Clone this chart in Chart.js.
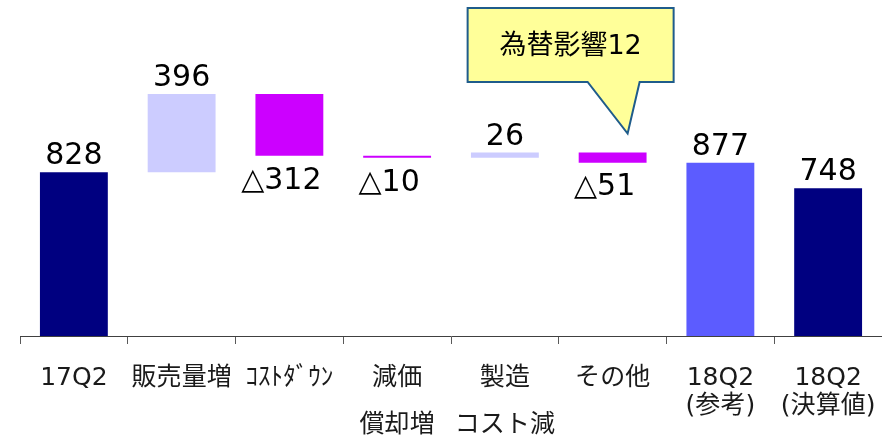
<!DOCTYPE html>
<html>
<head>
<meta charset="utf-8">
<script src="https://cdn.jsdelivr.net/npm/chart.js@4.4.1/dist/chart.umd.min.js"></script>
<style>
  html, body { margin: 0; padding: 0; background: #fff; }
  #wrap { width: 882px; height: 435px; }
</style>
</head>
<body>
<div id="wrap"><canvas id="waterfall"></canvas></div>
<script>
// Waterfall data
const categories = [['17Q2'], ['販売量増'], ['ｺｽﾄﾀﾞｳﾝ'], ['減価', '償却増'], ['製造', 'コスト減'], ['その他'], ['18Q2', '(参考)'], ['18Q2', '(決算値)']];
const startValue = 828;
const changes = [396, -312, -10, 26, -51];
const refValue = 877;
const actualValue = 748;
const valueLabels = ['828', '396', '△312', '△10', '26', '△51', '877', '748'];
const calloutText = '為替影響12';

const NAVY = '#000080';
const UP = '#CCCCFF';
const DOWN = '#CC00FF';
const REF = '#5C5CFF';

// Build floating [from, to] ranges from the running total
let running = startValue;
const ranges = [[0, startValue]];
const colors = [NAVY];
changes.forEach(c => {
    ranges.push([running, running + c]);
    colors.push(c >= 0 ? UP : DOWN);
    running += c;
});
ranges.push([0, refValue]);
colors.push(REF);
ranges.push([0, actualValue]);
colors.push(NAVY);

const FAMILY = '"DejaVu Sans", "Noto Sans CJK JP", sans-serif';

// Value labels above (totals / increases) or below (decreases) each bar
const valueLabelPlugin = {
    id: 'valueLabels',
    afterDatasetsDraw(chart) {
        const ctx = chart.ctx;
        const meta = chart.getDatasetMeta(0);
        ctx.save();
        ctx.font = '30px ' + FAMILY;
        ctx.fillStyle = '#000';
        ctx.textAlign = 'center';
        meta.data.forEach((el, i) => {
            const r = ranges[i];
            const top = Math.min(el.y, el.base);
            const bottom = Math.max(el.y, el.base);
            if (r[1] < r[0]) {
                ctx.textBaseline = 'top';
                ctx.fillText(valueLabels[i], el.x - 8, bottom + 10);
            } else {
                ctx.textBaseline = 'alphabetic';
                ctx.fillText(valueLabels[i], el.x, top - 8);
            }
        });
        ctx.restore();
    }
};

// Category names under the axis; the two 18Q2 labels use tighter line spacing
const categoryLabelPlugin = {
    id: 'categoryLabels',
    afterDraw(chart) {
        const ctx = chart.ctx;
        const xScale = chart.scales.x;
        const y0 = chart.chartArea.bottom + 42;
        ctx.save();
        ctx.font = '25px ' + FAMILY;
        ctx.fillStyle = '#1a1a1a';
        ctx.textAlign = 'center';
        ctx.textBaseline = 'middle';
        categories.forEach((lines, i) => {
            const x = xScale.getPixelForValue(i);
            const gap = i >= 6 ? 28 : 47;
            lines.forEach((line, j) => ctx.fillText(line, x, y0 + j * gap));
        });
        ctx.restore();
    }
};

// Speech-bubble note pointing at the その他 bar
const calloutPlugin = {
    id: 'callout',
    afterDraw(chart) {
        const ctx = chart.ctx;
        const el = chart.getDatasetMeta(0).data[5];
        const tipX = el.x + 15;
        const tipY = Math.min(el.y, el.base) - 19;
        const left = tipX - 160, right = tipX + 46, top = 8, bottom = 82;
        ctx.save();
        ctx.beginPath();
        ctx.moveTo(left, top);
        ctx.lineTo(right, top);
        ctx.lineTo(right, bottom);
        ctx.lineTo(tipX + 12, bottom);
        ctx.lineTo(tipX, tipY);
        ctx.lineTo(tipX - 40, bottom);
        ctx.lineTo(left, bottom);
        ctx.closePath();
        ctx.fillStyle = '#FFFF99';
        ctx.fill();
        ctx.strokeStyle = '#1F5C8B';
        ctx.lineWidth = 2;
        ctx.stroke();
        ctx.font = '27px ' + FAMILY;
        ctx.fillStyle = '#000';
        ctx.textAlign = 'center';
        ctx.textBaseline = 'middle';
        ctx.fillText(calloutText, (left + right) / 2, (top + bottom) / 2 + 2);
        ctx.restore();
    }
};

const ctx = document.getElementById('waterfall').getContext('2d');
new Chart(ctx, {
    type: 'bar',
    data: {
        labels: categories,
        datasets: [{
            data: ranges,
            backgroundColor: colors,
            borderWidth: 0,
            barPercentage: 0.63,
            categoryPercentage: 1
        }]
    },
    options: {
        responsive: true,
        maintainAspectRatio: false,
        animation: false,
        layout: { padding: { left: 20, right: 0, top: 0, bottom: 0 } },
        plugins: {
            legend: { display: false },
            tooltip: { enabled: false }
        },
        scales: {
            x: {
                offset: true,
                grid: {
                    offset: true,
                    drawOnChartArea: false,
                    drawTicks: true,
                    tickLength: 8,
                    color: '#595959'
                },
                border: { display: true, color: '#404040', width: 1 },
                ticks: { display: false },
                afterFit: (axis) => { axis.height = 99; }
            },
            y: {
                display: false,
                min: 0,
                max: 1700
            }
        }
    },
    plugins: [valueLabelPlugin, categoryLabelPlugin, calloutPlugin]
});
</script>
</body>
</html>
